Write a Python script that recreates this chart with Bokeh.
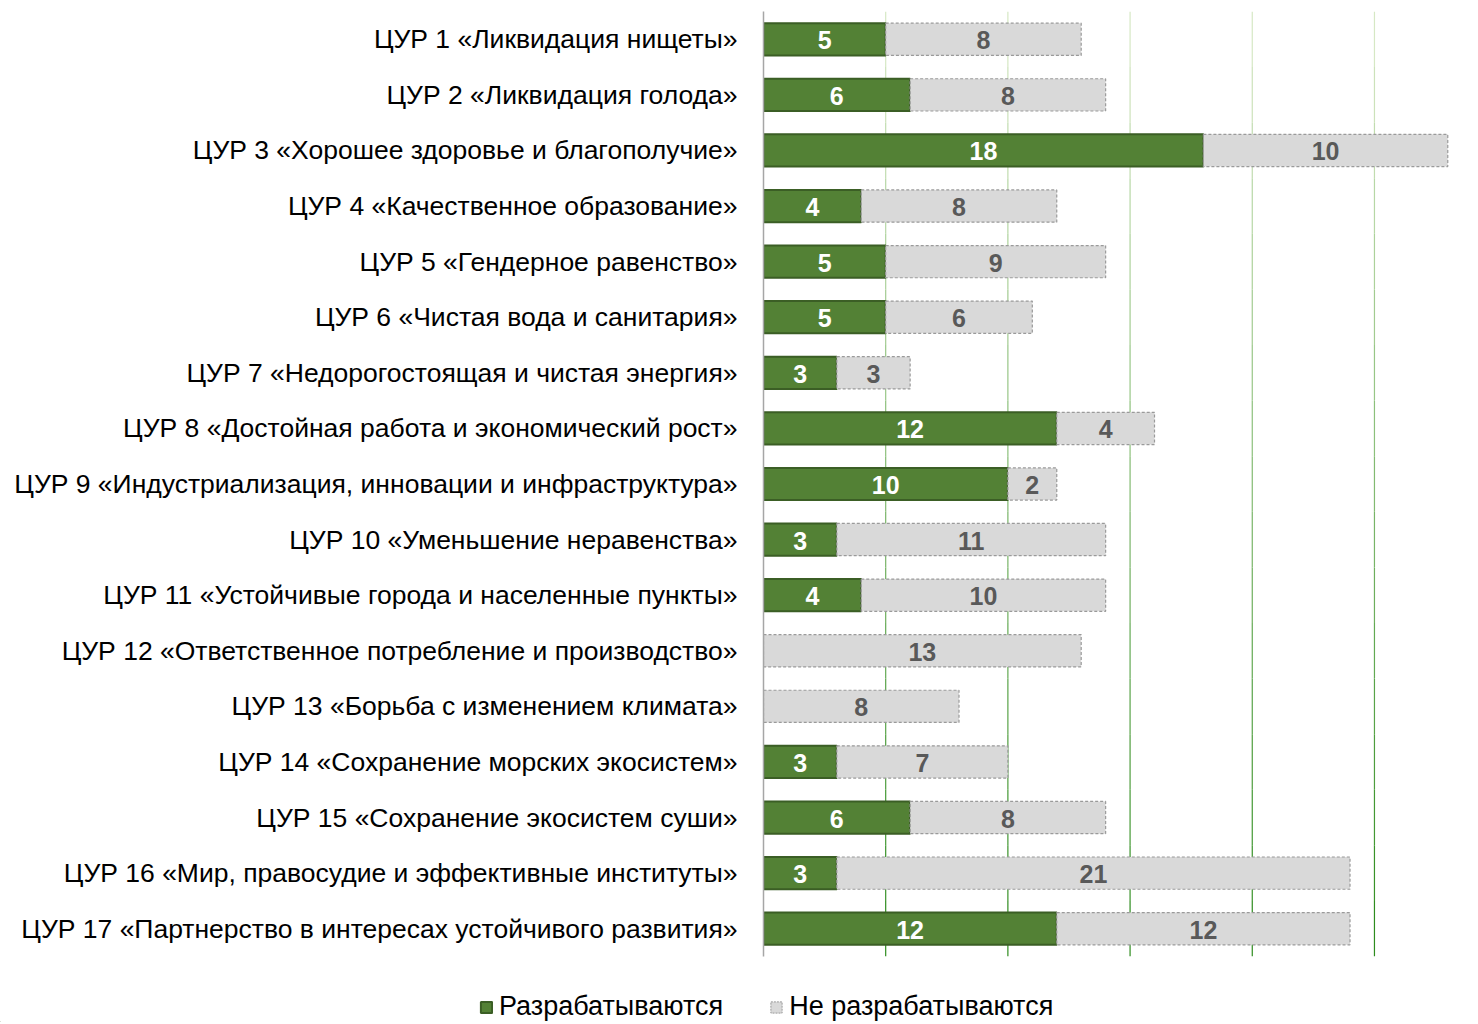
from bokeh.plotting import figure
from bokeh.layouts import column
from bokeh.models import ColumnDataSource, FactorRange, Legend, LegendItem, LabelSet, Range1d
from bokeh.embed import file_html
from bokeh.resources import INLINE
from bokeh.core.properties import value

categories = [
    "ЦУР 1 «Ликвидация нищеты»",
    "ЦУР 2 «Ликвидация голода»",
    "ЦУР 3 «Хорошее здоровье и благополучие»",
    "ЦУР 4 «Качественное образование»",
    "ЦУР 5 «Гендерное равенство»",
    "ЦУР 6 «Чистая вода и санитария»",
    "ЦУР 7 «Недорогостоящая и чистая энергия»",
    "ЦУР 8 «Достойная работа и экономический рост»",
    "ЦУР 9 «Индустриализация, инновации и инфраструктура»",
    "ЦУР 10 «Уменьшение неравенства»",
    "ЦУР 11 «Устойчивые города и населенные пункты»",
    "ЦУР 12 «Ответственное потребление и производство»",
    "ЦУР 13 «Борьба с изменением климата»",
    "ЦУР 14 «Сохранение морских экосистем»",
    "ЦУР 15 «Сохранение экосистем суши»",
    "ЦУР 16 «Мир, правосудие и эффективные институты»",
    "ЦУР 17 «Партнерство в интересах устойчивого развития»",
]
developed = [5, 6, 18, 4, 5, 5, 3, 12, 10, 3, 4, 0, 0, 3, 6, 3, 12]
not_developed = [8, 8, 10, 8, 9, 6, 3, 4, 2, 11, 10, 13, 8, 7, 8, 21, 12]
series_names = ["Разрабатываются", "Не разрабатываются"]
grid_ticks = [5, 10, 15, 20, 25]

GREEN = "#538135"
GREEN_LINE = "#3b5e25"
GRAY = "#d9d9d9"
GRAY_LINE = "#9a9a9a"

left1 = [0] * len(categories)
right1 = developed
left2 = developed
right2 = [a + b for a, b in zip(developed, not_developed)]
mid1 = [d / 2 for d in developed]
mid2 = [d + n / 2 for d, n in zip(developed, not_developed)]
lab1 = [str(d) if d > 0 else "" for d in developed]
lab2 = [str(n) if n > 0 else "" for n in not_developed]

src = ColumnDataSource(dict(cat=categories, l1=left1, r1=right1, l2=left2, r2=right2,
                            m1=mid1, m2=mid2, lab1=lab1, lab2=lab2))

p = figure(width=1476, height=958, output_backend="svg", toolbar_location=None,
           y_range=FactorRange(*reversed(categories), range_padding=0),
           x_range=Range1d(0, 28.93),
           min_border_left=763, min_border_right=6, min_border_top=11, min_border_bottom=2)
p.outline_line_color = None
p.xgrid.visible = False
p.ygrid.visible = False
p.xaxis.visible = False
p.frame_align = False

# gradient-coloured vertical gridlines (light at top, darker at bottom)
n = len(categories)
def lerp(c1, c2, t):
    return "#%02x%02x%02x" % tuple(int(round(a + (b - a) * t)) for a, b in zip(c1, c2))
top_c = (214, 232, 196)
bot_c = (46, 140, 30)
gx0, gx1, gy0, gy1, gcol = [], [], [], [], []
for gt in grid_ticks:
    for i, c in enumerate(categories):
        t = i / (n - 1)
        gx0.append(gt); gx1.append(gt)
        gy0.append((c, -0.5)); gy1.append((c, 0.5))
        gcol.append(lerp(top_c, bot_c, t))
p.segment(x0=gx0, x1=gx1, y0=gy0, y1=gy1, line_color=gcol, line_width=1.2)

r1 = p.hbar(y="cat", left="l1", right="r1", height=0.58, source=src,
            fill_color=GREEN, line_color=GREEN_LINE, line_width=2)
r2 = p.hbar(y="cat", left="l2", right="r2", height=0.58, source=src,
            fill_color=GRAY, line_color=GRAY_LINE, line_width=1.2, line_dash="3 2")

ls1 = LabelSet(x="m1", y="cat", text="lab1", source=src, text_align="center",
               text_baseline="middle", text_color="white", text_font_style="bold",
               text_font_size="25px", text_font=value("Liberation Sans"), y_offset=-1)
ls2 = LabelSet(x="m2", y="cat", text="lab2", source=src, text_align="center",
               text_baseline="middle", text_color="#595959", text_font_style="bold",
               text_font_size="25px", text_font=value("Liberation Sans"), y_offset=-1)
p.add_layout(ls1)
p.add_layout(ls2)

ax = p.yaxis[0]
ax.axis_line_color = "#a6a6a6"
ax.axis_line_width = 1.5
ax.major_tick_line_color = None
ax.minor_tick_line_color = None
ax.major_label_standoff = 20
ax.major_label_text_font = "Liberation Sans"
ax.major_label_text_font_size = "26.5px"
ax.major_label_text_color = "black"

# legend panel below the chart (legend swatches use renderers styled like the bars,
# whose single placeholder row lies outside this panel's visible range)
pl = figure(width=1476, height=64, output_backend="svg", toolbar_location=None,
            x_range=Range1d(0, 1), y_range=Range1d(0, 1),
            min_border_left=0, min_border_right=0, min_border_top=0, min_border_bottom=0)
pl.frame_align = False
pl.outline_line_color = None
pl.xaxis.visible = False
pl.yaxis.visible = False
pl.xgrid.visible = False
pl.ygrid.visible = False
lr1 = pl.hbar(y=[-5], left=[-5], right=[-4], height=0.5,
              fill_color=GREEN, line_color=GREEN_LINE, line_width=2)
lr2 = pl.hbar(y=[-5], left=[-5], right=[-4], height=0.5,
              fill_color=GRAY, line_color=GRAY_LINE, line_width=1, line_dash="2 1")
legend = Legend(items=[LegendItem(label=series_names[0], renderers=[lr1]),
                       LegendItem(label=series_names[1], renderers=[lr2])],
                orientation="horizontal", location=(479, 0),
                label_text_font="Liberation Sans", label_text_font_size="27px",
                label_text_color="black", glyph_width=14, glyph_height=14,
                label_standoff=6, spacing=46, padding=0, margin=0,
                background_fill_alpha=0, border_line_color=None)
pl.add_layout(legend, "center")

layout = column(p, pl, spacing=0)
open("out.html", "w").write(file_html(layout, INLINE))
